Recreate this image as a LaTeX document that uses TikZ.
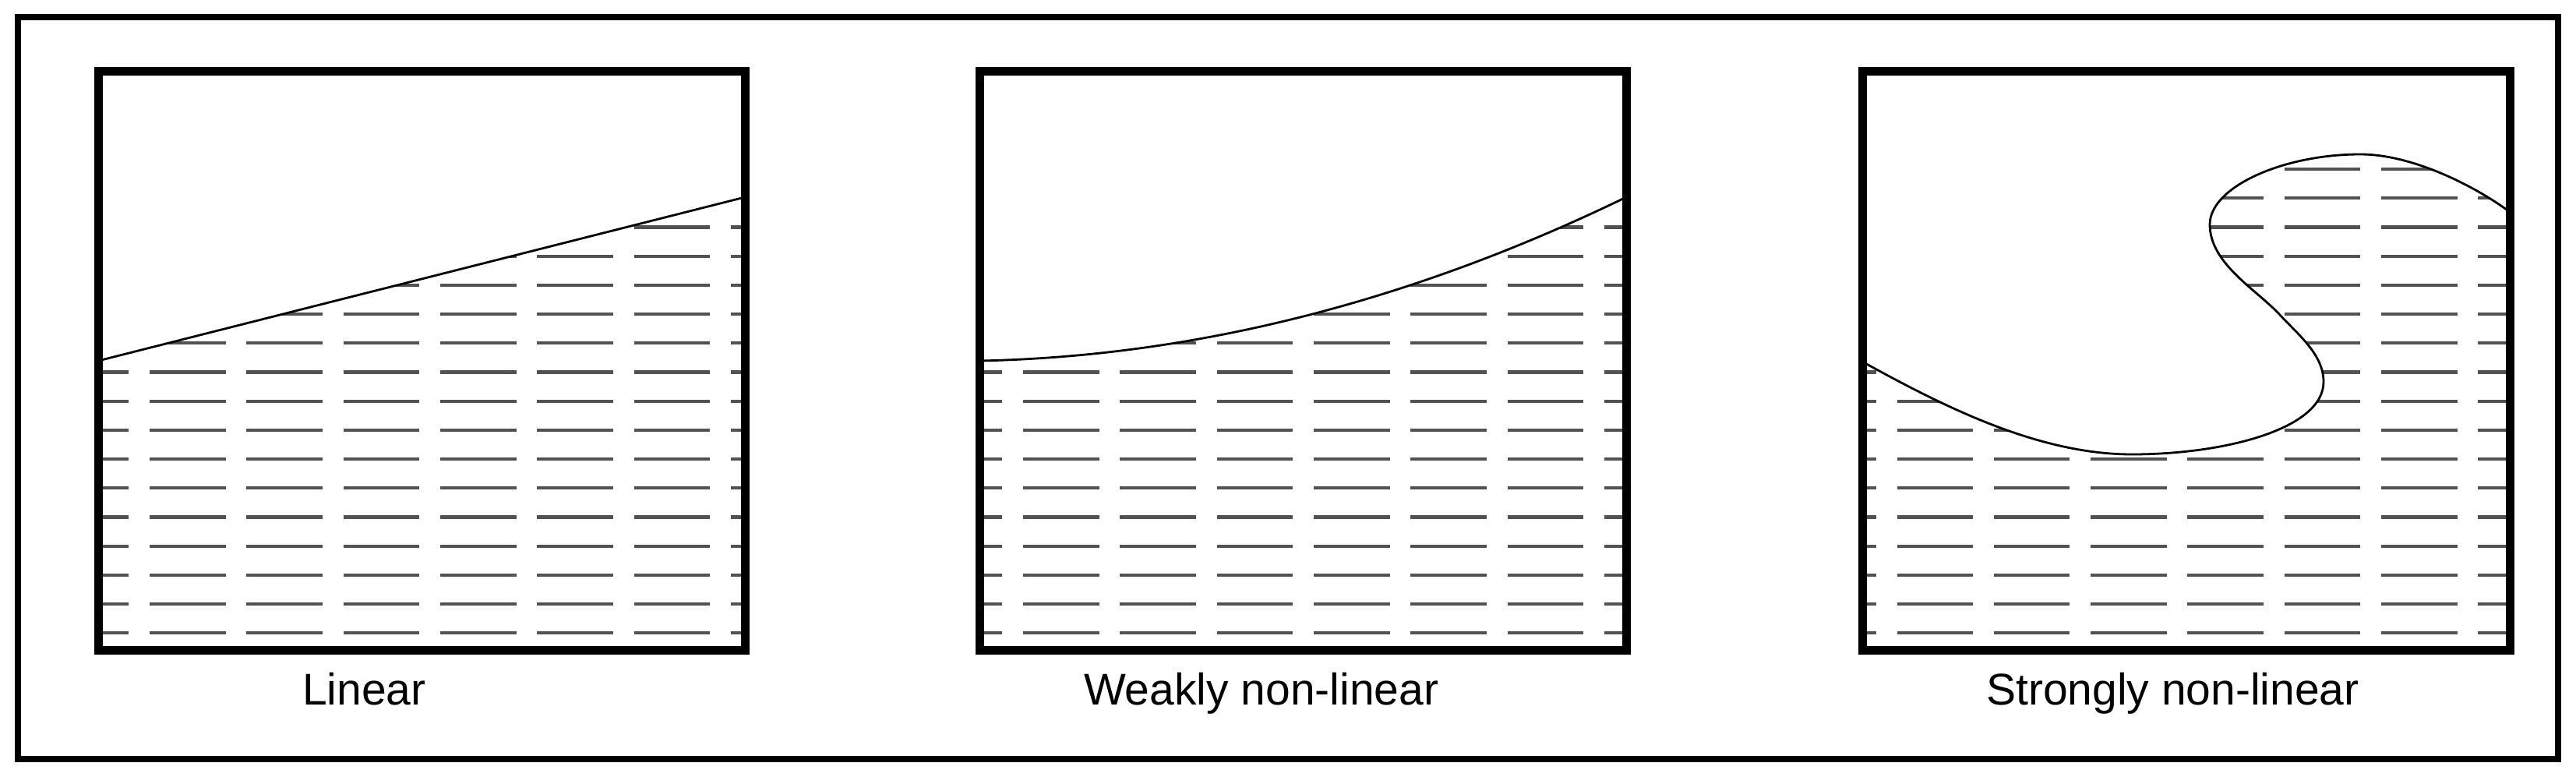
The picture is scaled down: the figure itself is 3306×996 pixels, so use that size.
\documentclass[tikz,border=0pt]{standalone}
\usepackage{fontspec}
\setmainfont{Liberation Sans}
\begin{document}
\begin{tikzpicture}[x=1pt,y=-1pt,
  frame/.style={line width=11pt, line join=miter},
  outer/.style={line width=8pt, line join=miter},
  iface/.style={line width=2.8pt, line join=round, line cap=round},
  hatch/.style={line width=4.2pt, black!68, dash pattern=on 97.6pt off 26.7pt},
  lbl/.style={anchor=base west, inner sep=0pt, font=\fontsize{57}{60}\selectfont}]
\useasboundingbox (0,0) rectangle (3306,996);
\fill[white] (0,0) rectangle (3306,996);
\draw[outer] (23,22) rectangle (3283,974);

% ---------- panel 1 : linear ----------
\begin{scope}
  \clip (126,463) -- (956,253) -- (956,834) -- (126,834) -- cycle;
  \foreach \k in {0,...,16} {
    \pgfmathsetmacro\yy{217+37.2*\k}
    \draw[hatch, dash phase=58.3pt] (126,\yy) -- (956,\yy);
  }
\end{scope}
\draw[iface] (126,463) -- (956,253);
\draw[frame] (126,91) rectangle (956,834);
\node[lbl] (l1) at (388,904) {Linear};

% ---------- panel 2 : weakly non-linear ----------
\begin{scope}
  \clip (1257,463) .. controls (1533,457.3) and (1810,387.4) .. (2087,253)
        -- (2087,834) -- (1257,834) -- cycle;
  \foreach \k in {0,...,16} {
    \pgfmathsetmacro\yy{217+37.2*\k}
    \draw[hatch, dash phase=68.3pt] (1257,\yy) -- (2087,\yy);
  }
\end{scope}
\draw[iface] (1257,463) .. controls (1533,457.3) and (1810,387.4) .. (2087,253);
\draw[frame] (1257,91) rectangle (2087,834);
\node[lbl] (l2) at (1391,904) {Weakly non-linear};

% ---------- panel 3 : strongly non-linear ----------
\def\scurve{(2390,464) .. controls (2495,522) and (2616,583) .. (2736,583)
   .. controls (2856,583) and (2982,550) .. (2982,490)
   .. controls (2982,455) and (2950,430) .. (2925,403)
   .. controls (2895,371) and (2836,338) .. (2836,288)
   .. controls (2836,240) and (2930,198) .. (3029,198)
   .. controls (3099,198) and (3181,242) .. (3221,272)}
\begin{scope}
  \clip \scurve -- (3221,834) -- (2390,834) -- cycle;
  \foreach \k in {0,...,16} {
    \pgfmathsetmacro\yy{217+37.2*\k}
    \draw[hatch, dash phase=79.8pt] (2390,\yy) -- (3221,\yy);
  }
\end{scope}
\draw[iface] \scurve;
\draw[frame] (2390,91) rectangle (3221,834);
\node[lbl] (l3) at (2549,904) {Strongly non-linear};
\end{tikzpicture}
\end{document}
